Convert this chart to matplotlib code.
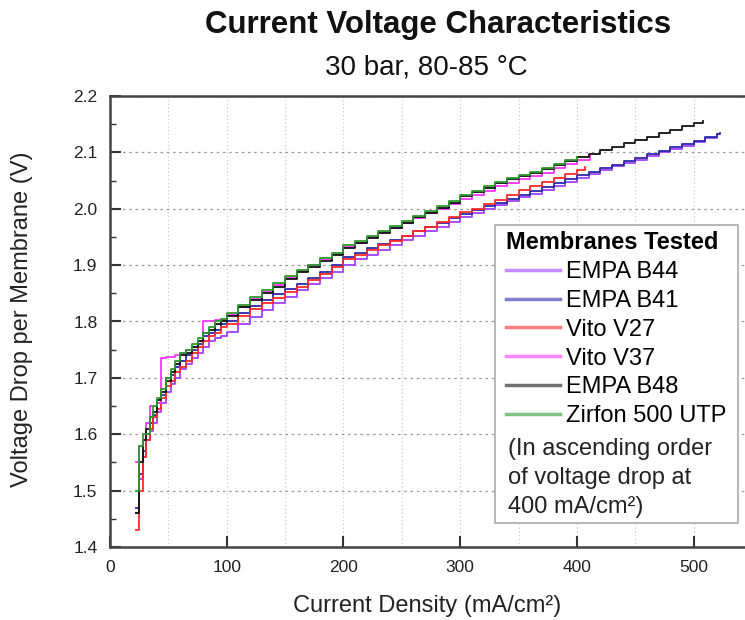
import matplotlib
matplotlib.use('Agg')
import matplotlib.pyplot as plt
from matplotlib.patches import Rectangle
from matplotlib.ticker import MultipleLocator

plt.rcParams['font.family'] = ['Liberation Sans', 'DejaVu Sans']

# current density grid (mA/cm2) shared by all runs, then tails for the long runs
X_BASE = [22, 25, 28, 31, 34, 37, 40, 44, 48, 52, 56, 60, 65, 70, 75, 80, 85, 90,
          95, 100, 110, 120, 130, 140, 150, 160, 170, 180, 190, 200, 210, 220, 230,
          240, 250, 260, 270, 280, 290, 300, 310, 320, 330, 340, 350, 360, 370, 380,
          390, 400]
X_TAIL = [410, 420, 430, 440, 450, 460, 470, 480, 490, 500]

x_b44 = X_BASE + X_TAIL + [510, 520]
v_b44 = [1.46, 1.52, 1.56, 1.59, 1.605, 1.62, 1.64, 1.655, 1.675, 1.69, 1.70, 1.715,
         1.725, 1.735, 1.745, 1.755, 1.765, 1.77, 1.775, 1.782, 1.795, 1.808, 1.82,
         1.832, 1.843, 1.855, 1.866, 1.877, 1.888, 1.90, 1.91, 1.918, 1.927, 1.936,
         1.944, 1.952, 1.96, 1.968, 1.976, 1.985, 1.992, 2.0, 2.007, 2.014, 2.02,
         2.027, 2.034, 2.041, 2.048, 2.055, 2.062, 2.068, 2.075, 2.081, 2.087, 2.094,
         2.10, 2.106, 2.112, 2.118, 2.125, 2.132]

x_b41 = X_BASE + X_TAIL + [510, 520, 523]
v_b41 = [1.47, 1.53, 1.57, 1.60, 1.62, 1.635, 1.655, 1.67, 1.70, 1.705, 1.72, 1.73,
         1.74, 1.75, 1.76, 1.775, 1.78, 1.785, 1.795, 1.80, 1.815, 1.827, 1.838,
         1.848, 1.857, 1.867, 1.878, 1.888, 1.90, 1.915, 1.922, 1.93, 1.938, 1.945,
         1.952, 1.96, 1.967, 1.975, 1.983, 1.99, 1.997, 2.004, 2.011, 2.018, 2.025,
         2.032, 2.039, 2.046, 2.053, 2.06, 2.066, 2.072, 2.078, 2.084, 2.09, 2.097,
         2.103, 2.109, 2.115, 2.12, 2.127, 2.132, 2.134]

x_v27 = X_BASE + [407]
v_v27 = [1.43, 1.50, 1.56, 1.59, 1.61, 1.63, 1.645, 1.665, 1.685, 1.695, 1.71, 1.72,
         1.73, 1.745, 1.755, 1.765, 1.775, 1.78, 1.79, 1.795, 1.81, 1.822, 1.832,
         1.842, 1.852, 1.862, 1.873, 1.885, 1.897, 1.91, 1.918, 1.927, 1.935, 1.943,
         1.952, 1.96, 1.968, 1.977, 1.985, 1.995, 2.0, 2.008, 2.015, 2.024, 2.033,
         2.04, 2.047, 2.055, 2.062, 2.068, 2.074]

x_v37 = X_BASE + [411]
v_v37 = [1.55, 1.58, 1.59, 1.62, 1.65, 1.65, 1.655, 1.735, 1.737, 1.737, 1.74, 1.745,
         1.75, 1.755, 1.765, 1.80, 1.80, 1.802, 1.805, 1.812, 1.825, 1.84, 1.852,
         1.865, 1.878, 1.89, 1.90, 1.91, 1.92, 1.932, 1.94, 1.95, 1.958, 1.966, 1.975,
         1.984, 1.992, 2.0, 2.008, 2.018, 2.025, 2.032, 2.04, 2.046, 2.052, 2.058,
         2.064, 2.072, 2.08, 2.086, 2.096]

x_b48 = X_BASE + X_TAIL + [508]
v_b48 = [1.46, 1.55, 1.59, 1.61, 1.63, 1.64, 1.66, 1.675, 1.695, 1.71, 1.725, 1.74,
         1.745, 1.755, 1.765, 1.78, 1.785, 1.795, 1.80, 1.81, 1.825, 1.838, 1.85,
         1.862, 1.875, 1.887, 1.897, 1.908, 1.918, 1.93, 1.94, 1.948, 1.957, 1.966,
         1.975, 1.985, 1.993, 2.002, 2.011, 2.022, 2.03, 2.037, 2.045, 2.052, 2.058,
         2.064, 2.07, 2.077, 2.084, 2.092, 2.098, 2.104, 2.11, 2.116, 2.122, 2.128,
         2.134, 2.14, 2.146, 2.152, 2.156]

x_zirfon = X_BASE
v_zirfon = [1.50, 1.58, 1.60, 1.60, 1.63, 1.65, 1.665, 1.68, 1.70, 1.715, 1.73, 1.745,
            1.75, 1.76, 1.77, 1.78, 1.79, 1.80, 1.805, 1.815, 1.83, 1.843, 1.855,
            1.868, 1.88, 1.892, 1.90, 1.912, 1.922, 1.935, 1.943, 1.952, 1.96, 1.97,
            1.978, 1.988, 1.996, 2.005, 2.014, 2.025, 2.032, 2.04, 2.047, 2.055, 2.06,
            2.066, 2.072, 2.08, 2.087, 2.092]

names = ['EMPA B44', 'EMPA B41', 'Vito V27', 'Vito V37', 'EMPA B48', 'Zirfon 500 UTP']
xs = [x_b44, x_b41, x_v27, x_v37, x_b48, x_zirfon]
vs = [v_b44, v_b41, v_v27, v_v37, v_b48, v_zirfon]
colors = ['#a040ff', '#2a2aa8', '#ff2a2a', '#ff33ff', '#111111', '#2f9a2f']

fig = plt.figure(figsize=(7.45, 6.2), dpi=100)
ax = fig.add_axes([110 / 745, 73 / 620, 635 / 745, 451 / 620])

for x, v, c, n in zip(xs, vs, colors, names):
    ax.plot(x, v, color=c, lw=1.3, drawstyle='steps-post', label=n)

ax.set_xlim(0, 544)
ax.set_ylim(1.4, 2.2)
ax.xaxis.set_major_locator(MultipleLocator(100))
ax.xaxis.set_minor_locator(MultipleLocator(50))
ax.yaxis.set_major_locator(MultipleLocator(0.1))
ax.yaxis.set_minor_locator(MultipleLocator(0.05))
ax.set_yticklabels([f'{t:.1f}' for t in ax.get_yticks()])
ax.tick_params(which='both', direction='in', colors='#333333', labelcolor='#222222',
               labelsize=12.5, top=False, right=False)
ax.tick_params(which='major', length=8, width=1.5)
ax.tick_params(which='minor', length=4, width=1.0)
ax.tick_params(axis='x', which='minor', length=0)
ax.tick_params(axis='x', pad=9)
ax.tick_params(axis='y', pad=9)

ax.grid(True, axis='y', which='major', ls=(0, (2, 3)), color='#999999', lw=0.9)
ax.grid(True, axis='x', which='both', ls=(0, (1, 2)), color='#cccccc', lw=0.9)
for s in ['left', 'bottom', 'top']:
    ax.spines[s].set_color('#444444')
    ax.spines[s].set_linewidth(1.8)
ax.spines['right'].set_visible(False)

ax.set_xlabel('Current Density (mA/cm²)', fontsize=17, color='#222222')
ax.xaxis.set_label_coords((427 - 110) / 635, (547 - 595) / 451)
ax.set_ylabel('Voltage Drop per Membrane (V)', fontsize=17, color='#222222')
ax.yaxis.set_label_coords((33 - 110) / 635, (547 - 319) / 451)

fig.text(438 / 745, 1 - 25 / 620, 'Current Voltage Characteristics', ha='center',
         va='center', fontsize=22.5, fontweight='bold', color='#111111')
fig.text(426 / 745, 1 - 68 / 620, '30 bar, 80-85 °C', ha='center',
         va='center', fontsize=20, color='#111111')

# legend box with a note underneath the entries
bx0, bx1 = (495 - 110) / 635, (738 - 110) / 635
by0, by1 = (547 - 523) / 451, (547 - 225) / 451
ax.add_patch(Rectangle((bx0, by0), bx1 - bx0, by1 - by0, transform=ax.transAxes,
                       facecolor='white', edgecolor='#aaaaaa', lw=1.2, zorder=5))
leg = ax.legend(loc='upper left', bbox_to_anchor=(bx0, by1 + 0.01),
                frameon=False, fontsize=17, title='Membranes Tested',
                title_fontproperties={'weight': 'bold', 'size': 17},
                handlelength=2.3, handletextpad=0.25, labelspacing=0.29,
                borderpad=0.25, borderaxespad=0.2)
leg._legend_box.align = 'left'
leg.set_zorder(6)
for line in leg.get_lines():
    line.set_linewidth(2.5)
    line.set_alpha(0.6)
ax.text((508 - 110) / 635, (547 - 478) / 451,
        '(In ascending order\nof voltage drop at\n400 mA/cm²)',
        transform=ax.transAxes, ha='left', va='center', fontsize=17,
        linespacing=1.42, color='#222222', zorder=7)

fig.savefig('out.png', dpi=100)
